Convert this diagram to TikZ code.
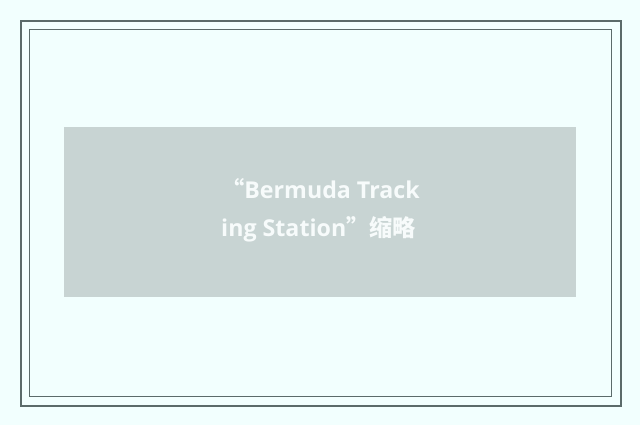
\documentclass[tikz,border=0pt]{standalone}
\usepackage{fontspec}
\setmainfont{Open Sans}
\newfontfamily\cjk{Noto Sans CJK SC}
\definecolor{bgc}{HTML}{F2FFFE}
\definecolor{framec}{HTML}{5B6B6A}
\definecolor{panelc}{HTML}{C8D4D3}
\definecolor{textc}{HTML}{F7FBFB}
\newcommand{\myLQ}{\makebox[1em][r]{\cjk\bfseries “}}
\newcommand{\myRQ}{\makebox[1em][l]{\cjk\bfseries ”}}
\tikzset{
  caption/.style={text=textc, font=\bfseries\fontsize{23.2pt}{28pt}\selectfont, inner sep=0pt, anchor=base west},
}
\begin{document}
\begin{tikzpicture}[x=1pt,y=-1pt]
\fill[bgc] (0,0) rectangle (640,425);
\useasboundingbox (0,0) rectangle (640,425);
\draw[framec, line width=2pt] (21,21) rectangle (621,406);
\draw[framec, line width=1.2pt] (29.5,29.5) rectangle (611.5,396.5);
\fill[panelc] (64,127) rectangle (576,297);
\node[caption] (line1) at (221,198.7) {\myLQ Bermuda Track};
\node[caption] (line2) at (221,236) {ing Station\myRQ{\cjk\bfseries 缩略}};
\end{tikzpicture}
\end{document}
